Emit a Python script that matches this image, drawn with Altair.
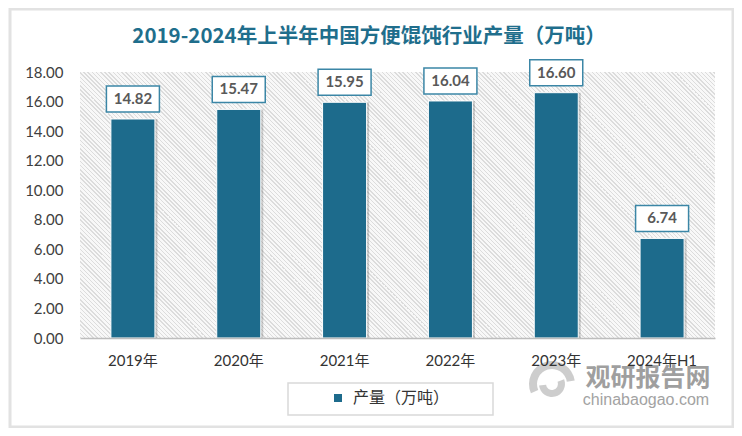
import math
import altair as alt
import pandas as pd

# ---- data ----
years = ["2019年", "2020年", "2021年", "2022年", "2023年", "2024年H1"]
values = [14.82, 15.47, 15.95, 16.04, 16.60, 6.74]
series_name = "产量（万吨）"
title_text = "2019-2024年上半年中国方便馄饨行业产量（万吨）"
y_ticks = [0, 2, 4, 6, 8, 10, 12, 14, 16, 18]

df = pd.DataFrame({"year": years, "value": values, "series": [series_name] * len(years)})

# ---- layout (plot area) ----
W, H = 635, 266
PAD = {"left": 72, "top": 64, "right": 19, "bottom": 90}
BAR = "#1d6b8c"
FONT = "Lato, 'Noto Sans CJK SC'"

# ---- diagonal hatch as a striped gradient ----
u = (1.0, -H / W)
uu = u[0] ** 2 + u[1] ** 2
span = (1 + H / W) / uu
x1, y1 = 0.0, 1.0
x2, y2 = x1 + span * u[0], y1 + span * u[1]
L = (W + H) / math.sqrt(2)
period = 4.2 / math.sqrt(2)
lw = 1.0
bg, ln = "#f8f8f8", "#dcdcdc"
stops = []
k = 0
while k * period < L:
    a = k * period / L
    b = min(1.0, (k * period + lw) / L)
    stops += [
        {"offset": a, "color": bg},
        {"offset": a, "color": ln},
        {"offset": b, "color": ln},
        {"offset": b, "color": bg},
    ]
    k += 1
stops.append({"offset": 1.0, "color": bg})
hatch_fill = {"gradient": "linear", "x1": x1, "y1": y1, "x2": x2, "y2": y2, "stops": stops}

one = alt.Data(values=[{"k": 1}])

card = alt.Chart(one).mark_rect(fill="white", stroke="#e2e2e2", strokeWidth=3).encode(
    x=alt.value(-70), x2=alt.value(653), y=alt.value(-63), y2=alt.value(355)
)

hatch = alt.Chart(one).mark_rect(fill=hatch_fill).encode(
    x=alt.value(0), x2=alt.value(W), y=alt.value(0), y2=alt.value(H)
)

legend_box = alt.Chart(one).mark_rect(fill="white", stroke="#d9d9d9", strokeWidth=1.5).encode(
    x=alt.value(208), x2=alt.value(413), y=alt.value(311), y2=alt.value(343)
)

xenc = alt.X(
    "year:N",
    sort=years,
    scale=alt.Scale(paddingInner=0.584, paddingOuter=0.292),
    axis=alt.Axis(
        title=None, labelAngle=0, labelFontSize=15, labelColor="#333333", labelFont=FONT,
        domainColor="#bdbdbd", domainWidth=1.5, ticks=False, tickSize=0, labelPadding=15,
        zindex=1,
    ),
)
yenc = alt.Y(
    "value:Q",
    scale=alt.Scale(domain=[0, 18], nice=False),
    axis=alt.Axis(
        title=None, values=y_ticks, format=".2f", grid=False, domain=False, ticks=False,
        tickSize=0, labelPadding=17, labelFontSize=15, labelColor="#404040", labelFont=FONT,
        zindex=1,
    ),
)

base = alt.Chart(df)

shadow = base.mark_bar(color="#000000", opacity=0.18, xOffset=2.5).encode(x=xenc, y=yenc)

bars = base.mark_bar(stroke="white", strokeWidth=1).encode(
    x=xenc,
    y=yenc,
    color=alt.Color(
        "series:N",
        scale=alt.Scale(range=[BAR]),
        legend=alt.Legend(
            title=None, orient="none", legendX=250, legendY=318, symbolType="square",
            symbolSize=64, symbolStrokeWidth=0, labelFontSize=16, labelColor="#333333",
            labelFont=FONT, labelOffset=7, zindex=2,
        ),
    ),
)

label_box = base.mark_rect(
    width=53, height=26, yOffset=-20, fill="white", stroke="#3b86a6", strokeWidth=1.5
).encode(x=xenc, y=yenc)

labels = base.mark_text(
    yOffset=-20, fontSize=15, fontWeight="bold", color="#595959", baseline="middle", font=FONT
).encode(x=xenc, y=yenc, text=alt.Text("value:Q", format=".2f"))

title = alt.Chart(one).mark_text(
    text=title_text, fontSize=20.5, fontWeight="bold", color="#1f6e8c",
    font="'Noto Sans CJK SC'", baseline="middle", align="center",
).encode(x=alt.value(289), y=alt.value(-35))

# watermark
logo1 = alt.Chart(one).mark_arc(
    radius=23, radius2=15, theta=4.3, theta2=7.7, color="#c4c4c4", opacity=0.85
).encode(x=alt.value(472), y=alt.value(312))
logo2 = alt.Chart(one).mark_arc(
    radius=13, radius2=6, theta=1.2, theta2=4.6, color="#c4c4c4", opacity=0.85
).encode(x=alt.value(472), y=alt.value(312))

wm1 = alt.Chart(one).mark_text(
    text="观研报告网", fontSize=25, fontWeight="bold", color="#7f7f7f", opacity=0.75,
    font="'Noto Sans CJK SC'", baseline="middle", align="center",
).encode(x=alt.value(568), y=alt.value(306))

wm2 = alt.Chart(one).mark_text(
    text="chinabaogao.com", fontSize=16, color="#8c8c8c", opacity=0.8,
    font="'Liberation Sans'", baseline="middle", align="center",
).encode(x=alt.value(566), y=alt.value(328))

chart = (
    alt.layer(card, hatch, legend_box, shadow, bars, label_box, labels, title,
              logo1, logo2, wm1, wm2)
    .properties(width=W, height=H, padding=PAD, autosize=alt.AutoSizeParams(type="none"),
                background="white")
    .configure_view(strokeWidth=0)
)

chart.save("out.html", embed_options={"renderer": "svg", "actions": False})
